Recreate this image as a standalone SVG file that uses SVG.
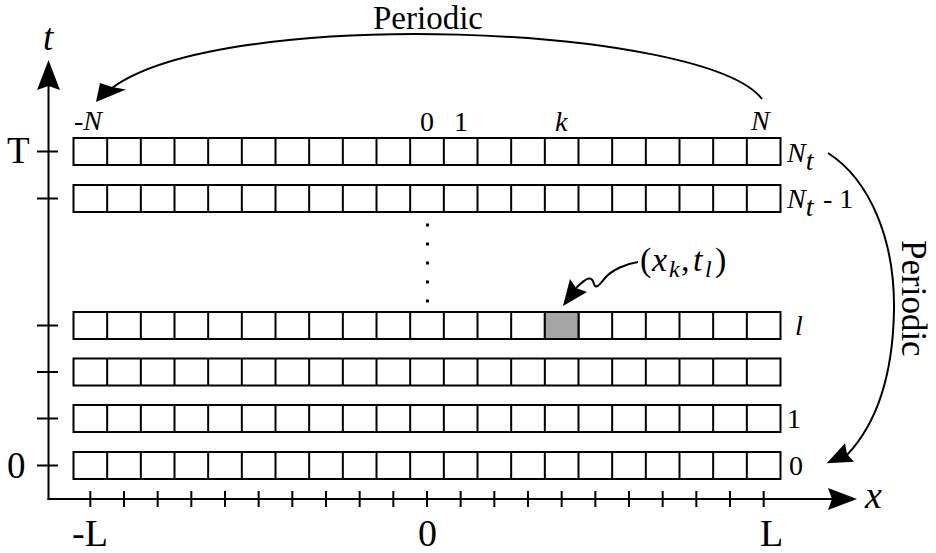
<svg xmlns="http://www.w3.org/2000/svg" width="936" height="553" viewBox="0 0 936 553" font-family="'Liberation Serif', Tinos, 'Times New Roman', 'DejaVu Serif', serif">
<style>
.ln{fill:none;stroke:#000;stroke-width:2}
.cell{fill:#fff;stroke:#000;stroke-width:2}
.ah{fill:#000;stroke:none}
text{font-family:'Liberation Serif',Tinos,'Times New Roman','DejaVu Serif',serif;fill:#000}
.it{font-style:italic}
.big{font-size:37px}
.sm{font-size:28px}
</style>
<defs>
<g id="rowshape">
<rect class="cell" x="73.5" y="0" width="707" height="27"/>
<path class="ln" d="M107.17,0v27M140.83,0v27M174.5,0v27M208.17,0v27M241.83,0v27M275.5,0v27M309.17,0v27M342.83,0v27M376.5,0v27M410.17,0v27M443.83,0v27M477.5,0v27M511.17,0v27M544.83,0v27M578.5,0v27M612.17,0v27M645.83,0v27M679.5,0v27M713.17,0v27M746.83,0v27"/>
</g>
</defs>
<rect width="936" height="553" fill="#fff"/>

<g id="axes">
<line class="ln" x1="48.5" y1="500" x2="48.5" y2="86"/>
<polygon class="ah" points="48.5,60 37,90 48.5,86 60,90"/>
<line class="ln" x1="47.5" y1="499" x2="832" y2="499"/>
<polygon class="ah" points="857,499 828,488 832,499 828,510"/>
<path class="ln" d="M37,151.5h21M37,198.5h21M37,325.5h21M37,372h21M37,418.5h21M37,465.5h21"/>
<path class="ln" d="M90.33,491v16M124,491v16M157.67,491v16M191.33,491v16M225,491v16M258.67,491v16M292.33,491v16M326,491v16M359.67,491v16M393.33,491v16M427,491v16M460.67,491v16M494.33,491v16M528,491v16M561.67,491v16M595.33,491v16M629,491v16M662.67,491v16M696.33,491v16M730,491v16M763.67,491v16"/>
<text class="it big" x="43" y="50">t</text>
<text class="big" x="7" y="163">T</text>
<text class="big" x="7" y="478">0</text>
<text class="it" x="865" y="508" style="font-size:38px">x</text>
<text x="72" y="546" style="font-size:38px">-L</text>
<text x="418" y="546" style="font-size:38px">0</text>
<text x="760" y="546" style="font-size:38px">L</text>
</g>

<g id="row-Nt"><use href="#rowshape" y="138"/></g>
<g id="row-Nt-1"><use href="#rowshape" y="185"/></g>
<g id="row-l"><use href="#rowshape" y="312"/><rect x="544.83" y="312" width="33.67" height="27" fill="#a5a5a5" stroke="#000" stroke-width="2"/></g>
<g id="row-2"><use href="#rowshape" y="358.5"/></g>
<g id="row-1"><use href="#rowshape" y="405"/></g>
<g id="row-0"><use href="#rowshape" y="452"/></g>

<g id="dots" fill="#000">
<rect x="426" y="223.5" width="3" height="3"/>
<rect x="426" y="242.5" width="3" height="3"/>
<rect x="426" y="261.5" width="3" height="3"/>
<rect x="426" y="280.5" width="3" height="3"/>
<rect x="426" y="299.5" width="3" height="3"/>
</g>

<g id="col-labels" class="sm">
<text x="74" y="130">-<tspan class="it">N</tspan></text>
<text x="420" y="131">0</text>
<text x="454" y="131">1</text>
<text class="it" x="555" y="131">k</text>
<text class="it" x="751" y="130">N</text>
</g>

<g id="row-labels" class="sm">
<text x="787" y="162"><tspan class="it">N</tspan><tspan class="it" dy="8">t</tspan></text>
<text x="787" y="208"><tspan class="it">N</tspan><tspan class="it" dy="8">t</tspan><tspan dy="-8" x="823">- 1</tspan></text>
<text class="it" x="795" y="335">l</text>
<text x="787" y="428">1</text>
<text x="789" y="475">0</text>
</g>

<g id="connectors">
<path class="ln" d="M762,99 C705,25 225,5 112,88"/>
<polygon class="ah" points="96,102 100,83 112,87 126,89.5"/>
<path class="ln" d="M828,153 C870,180 895,240 894,310 C893,370 880,420 847,455"/>
<polygon class="ah" points="826.7,463.3 845,443.3 847,454 854,461.7"/>
<path class="ln" d="M638,262 C625,264 612,270 605,278 C600,284 596,290 594,284 C592,276 588,276 576,288"/>
<polygon class="ah" points="563,306 570,279 576,288 587,292"/>
</g>

<g id="labels">
<text x="373" y="29" style="font-size:33px">Periodic</text>
<text transform="translate(902,240) rotate(90)" style="font-size:35px">Periodic</text>
<text y="271" style="font-size:34px"><tspan x="640">(</tspan><tspan class="it" x="652">x</tspan><tspan class="it" x="669" dy="6" style="font-size:24px">k</tspan><tspan x="681" dy="-6">,</tspan><tspan class="it" x="693">t</tspan><tspan class="it" x="705" dy="6" style="font-size:24px">l</tspan><tspan x="715" dy="-6">)</tspan></text>
</g>
</svg>
